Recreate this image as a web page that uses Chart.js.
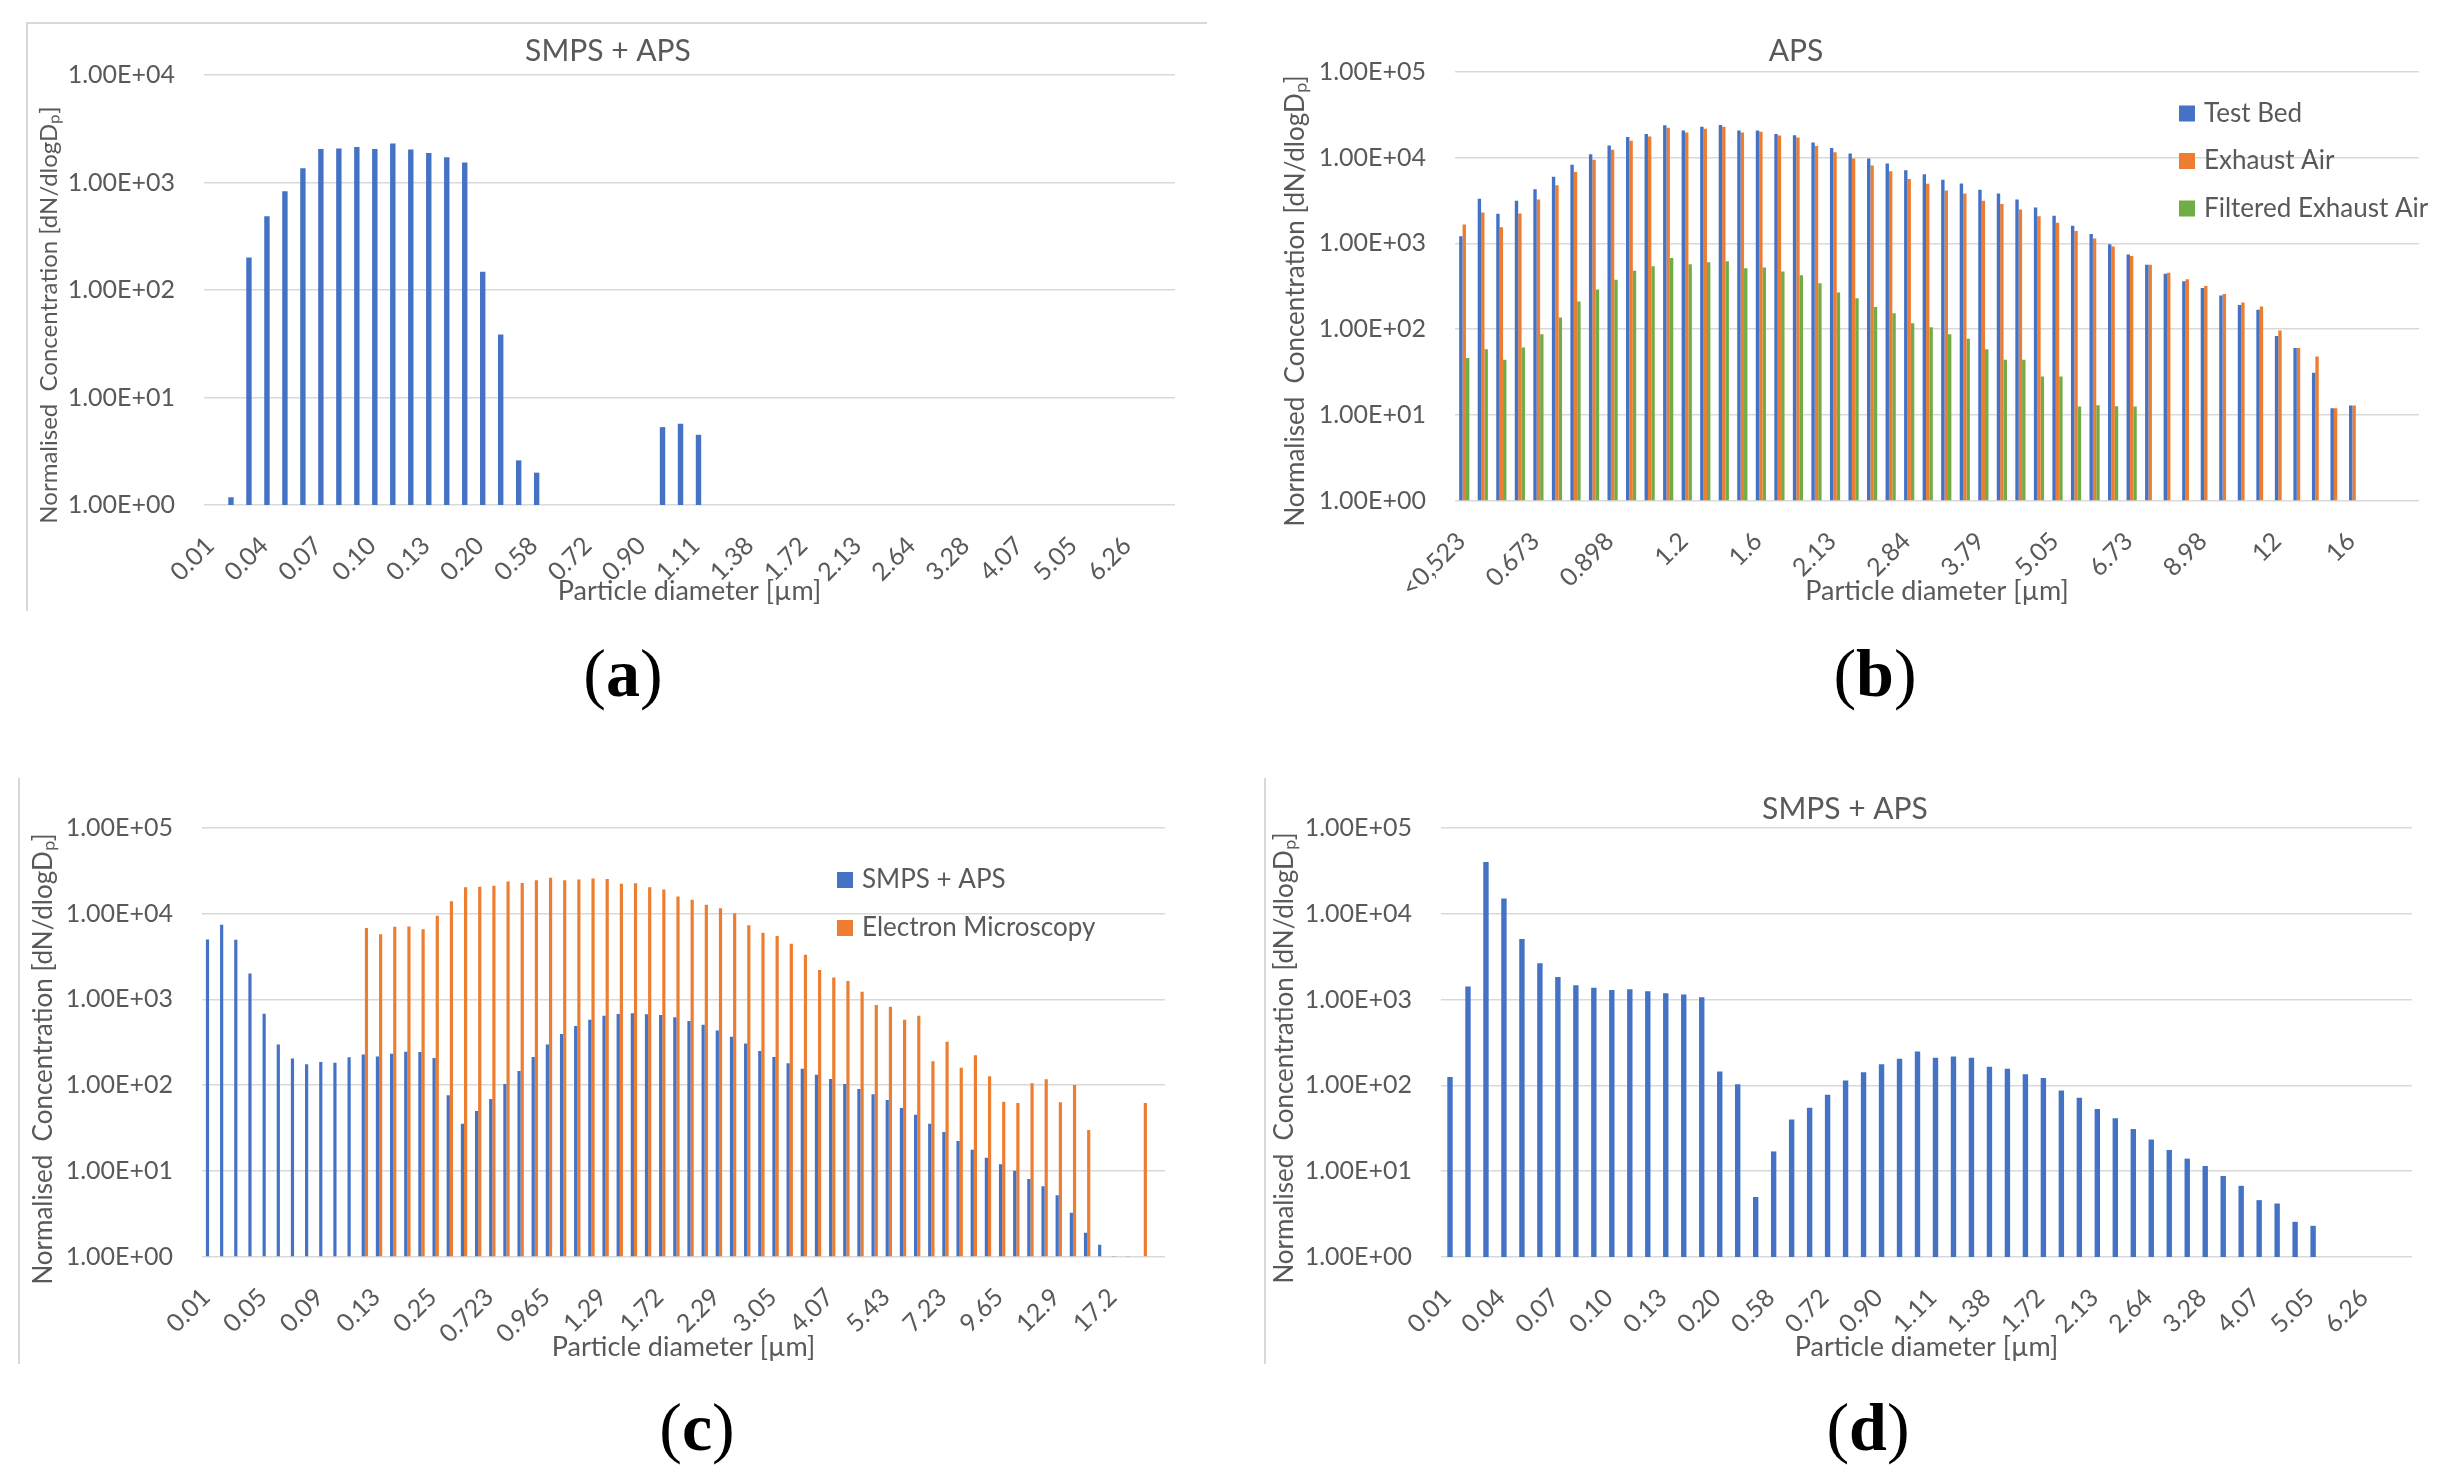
<!DOCTYPE html>
<html>
<head>
<meta charset="utf-8">
<script src="https://cdn.jsdelivr.net/npm/chart.js@4.4.0/dist/chart.umd.min.js"></script>
<style>
  html, body { margin: 0; padding: 0; background: #fff; }
  body { width: 2450px; height: 1478px; position: relative; overflow: hidden; }
  .panel { position: absolute; }
  .frame { position: absolute; border: 0 solid #d9d9d9; }
  .tag { position: absolute; font-family: 'Liberation Serif', 'DejaVu Serif', serif; font-size: 68px; color: #000; transform: translate(-50%, -50%); white-space: nowrap; }
</style>
</head>
<body>
<!-- light chart frames as in the original figure -->
<div class="frame" style="left:26px; top:22px; width:1179px; height:587px; border-top-width:2px; border-left-width:2px;"></div>
<div class="frame" style="left:18px; top:778px; width:1px; height:586px; border-left-width:2px;"></div>
<div class="frame" style="left:1264px; top:778px; width:1px; height:586px; border-left-width:2px;"></div>

<div class="panel" id="boxA"><canvas id="chartA"></canvas></div>
<div class="panel" id="boxB"><canvas id="chartB"></canvas></div>
<div class="panel" id="boxC"><canvas id="chartC"></canvas></div>
<div class="panel" id="boxD"><canvas id="chartD"></canvas></div>

<div class="tag" style="left:623px; top:673px;">(<b>a</b>)</div>
<div class="tag" style="left:1875px; top:673px;">(<b>b</b>)</div>
<div class="tag" style="left:697px; top:1427px;">(<b>c</b>)</div>
<div class="tag" style="left:1868px; top:1427px;">(<b>d</b>)</div>

<script>
// particle diameter bins [µm]
const smpsApsDiam = ['0.01', '0.02', '0.03', '0.04', '0.05', '0.06', '0.07', '0.08', '0.09', '0.10',
    '0.11', '0.12', '0.13', '0.15', '0.18', '0.20', '0.25', '0.54', '0.58', '0.63', '0.67', '0.72',
    '0.78', '0.84', '0.90', '0.97', '1.04', '1.11', '1.20', '1.29', '1.38', '1.49', '1.60', '1.72',
    '1.84', '1.98', '2.13', '2.29', '2.46', '2.64', '2.84', '3.05', '3.28', '3.52', '3.79', '4.07',
    '4.37', '4.70', '5.05', '5.43', '5.83', '6.26', '6.73', '7.23'];

const apsDiam = ['<0,523', '0.542', '0.583', '0.626', '0.673', '0.723', '0.777', '0.835', '0.898',
    '0.965', '1.04', '1.11', '1.2', '1.29', '1.38', '1.49', '1.6', '1.72', '1.84', '1.98', '2.13',
    '2.29', '2.46', '2.64', '2.84', '3.05', '3.28', '3.52', '3.79', '4.07', '4.37', '4.7', '5.05',
    '5.43', '5.83', '6.26', '6.73', '7.23', '7.77', '8.35', '8.98', '9.65', '10.4', '11.1', '12',
    '12.9', '13.8', '14.9', '16', '17.2', '18.4', '19.8'];

const compareDiam = ['0.01', '0.02', '0.03', '0.04', '0.05', '0.06', '0.07', '0.08', '0.09', '0.10',
    '0.11', '0.12', '0.13', '0.15', '0.18', '0.20', '0.25', '0.583', '0.626', '0.673', '0.723',
    '0.777', '0.835', '0.898', '0.965', '1.04', '1.11', '1.2', '1.29', '1.38', '1.49', '1.6', '1.72',
    '1.84', '1.98', '2.13', '2.29', '2.46', '2.64', '2.84', '3.05', '3.28', '3.52', '3.79', '4.07',
    '4.37', '4.7', '5.05', '5.43', '5.83', '6.26', '6.73', '7.23', '7.77', '8.35', '8.98', '9.65',
    '10.4', '11.1', '12', '12.9', '13.8', '14.9', '16', '17.2', '18.4', '19.8', '20'];

// (a) SMPS + APS
const smpsApsA = [0.97, 1.18, 201, 486, 829, 1355, 2050, 2070, 2140, 2050, 2310, 2030, 1885, 1717,
    1537, 148, 38.5, 2.6, 2.0, 0.97, 0.97, 0.97, 0.97, null, null, 5.3, 5.7, 4.5,
    null, null, null, null, null, null, null, null, null, null, null, null, null, null, null,
    null, null, null, null, null, null, null, null, null, null, null];

// (b) APS
const testBed = [1210, 3320, 2220, 3150, 4280, 6010, 8260, 11000, 13900, 17400, 18900, 23900, 20800,
    22900, 24100, 20800, 20800, 18900, 18300, 15000, 13000, 11200, 9790, 8530, 7130, 6400, 5520,
    5010, 4240, 3810, 3250, 2630, 2100, 1610, 1290, 980, 743, 564, 442, 361, 302, 246, 191, 168,
    83, 60, 31, 11.9, 12.8, null, null, null];
const exhaustAir = [1665, 2290, 1545, 2240, 3250, 4760, 6820, 9480, 12400, 15800, 17700, 22400,
    19700, 21700, 22900, 19700, 20100, 18100, 17200, 13700, 11600, 9790, 8090, 6970, 5640, 4960,
    4150, 3810, 3150, 2890, 2490, 2080, 1740, 1400, 1140, 918, 712, 564, 456, 381, 318, 257, 204,
    183, 96, 60, 48, 11.9, 12.8, null, null, null];
const filteredExhaust = [46, 58, 44, 61, 87, 137, 210, 289, 377, 481, 540, 675, 570, 601, 621, 512,
    524, 471, 424, 343, 268, 229, 181, 153, 117, 105, 87, 77, 58, 44, 44, 28, 28, 12.5, 12.9, 12.6,
    12.5, null, null, null, null, null, null, null, null, null, null, null, null, null, null, null];

// (c) SMPS + APS vs electron microscopy
const smpsApsC = [5000, 7410, 4950, 2010, 679, 297, 205, 175, 186, 182, 211, 228, 216, 232, 245, 243,
    207, 76, 35.5, 49.8, 69, 103, 146, 213, 297, 395, 489, 580, 644, 676, 687, 673, 658, 618, 561,
    505, 435, 367, 306, 250, 213, 180, 155, 132, 118, 103, 90, 78, 67, 54, 45, 35.5, 28.4, 22.2,
    17.6, 14.2, 11.9, 10.0, 8.0, 6.6, 5.2, 3.25, 1.89, 1.37, 0.97, 0.97, null, null];
const electronMicroscopy = [null, null, null, null, null, null, null, null, null, null, null,
    6810, 5740, 7030, 7100, 6590, 9460, 14000, 20300, 20600, 21200, 23800, 22800, 24600, 26200,
    24600, 25100, 25700, 25400, 22400, 22600, 20300, 19100, 15900, 14500, 12700, 11600, 10100,
    7330, 6000, 5510, 4450, 3310, 2210, 1800, 1640, 1230, 859, 822, 580, 644, 190, 320, 159, 223,
    127, 64, 62, 105, 117, 63, 100, 30, null, null, null, 62, null];

// (d) SMPS + APS
const smpsApsD = [125, 1420, 40200, 15100, 5070, 2650, 1830, 1465, 1375, 1290, 1318, 1250, 1185,
    1148, 1066, 145, 103, 5.0, 17, 40, 55, 78, 114, 142, 176, 204, 249, 210, 217, 210, 165, 156,
    135, 122, 87, 72, 53, 41.5, 31, 23.4, 17.7, 14.0, 11.5, 8.8, 6.75, 4.6, 4.2, 2.57, 2.31, null,
    0.97, 0.97, 0.97, null];

const BLUE = '#4472C4';
const ORANGE = '#ED7D31';
const GREEN = '#70AD47';
const GREY = '#595959';
const GRID = '#d9d9d9';
const Y_TITLE = 'Normalised  Concentration [dN/dlogD\u209A]';
const X_TITLE = 'Particle diameter [\u00B5m]';

Chart.defaults.font.family = 'Lato, "Open Sans", sans-serif';
Chart.defaults.color = GREY;

function isDecade(v) {
    const l = Math.log10(v);
    return Math.abs(l - Math.round(l)) < 1e-6;
}

function fmtExp(v) {
    const e = Math.round(Math.log10(v));
    return '1.00E' + (e < 0 ? '-' : '+') + String(Math.abs(e)).padStart(2, '0');
}

// chart title, y title and in-plot legend, placed where the original has them
const decor = {
    id: 'decor',
    afterDraw(chart, args, opts) {
        const ctx = chart.ctx;
        ctx.save();
        ctx.fillStyle = GREY;
        if (opts.title) {
            ctx.font = '30px Lato';
            ctx.textAlign = 'center';
            ctx.textBaseline = 'middle';
            ctx.fillText(opts.title.text, opts.title.x, opts.title.y);
        }
        if (opts.yTitle) {
            ctx.save();
            ctx.translate(opts.yTitle.x, opts.yTitle.y);
            ctx.rotate(-Math.PI / 2);
            ctx.font = opts.yTitle.size + 'px Lato';
            ctx.textAlign = 'center';
            ctx.textBaseline = 'middle';
            ctx.fillText(Y_TITLE, 0, 0);
            ctx.restore();
        }
        if (opts.legend) {
            const L = opts.legend;
            ctx.font = '26px Lato';
            ctx.textAlign = 'left';
            ctx.textBaseline = 'middle';
            chart.data.datasets.forEach((ds, i) => {
                const cy = L.y + i * L.gap;
                ctx.fillStyle = ds.backgroundColor;
                ctx.fillRect(L.x, cy - 8, 16, 16);
                ctx.fillStyle = GREY;
                ctx.fillText(ds.label, L.x + 25, cy);
            });
        }
        ctx.restore();
    }
};

// box / plot / titles given in page pixels
function makePanel(id, box, plot, p) {
    const wrap = document.getElementById('box' + id);
    wrap.style.left = box.x + 'px';
    wrap.style.top = box.y + 'px';
    wrap.style.width = box.w + 'px';
    wrap.style.height = box.h + 'px';

    const leftW = plot.l - box.x;
    const bottomH = box.y + box.h - plot.b;

    const decorOpts = {
        yTitle: { x: p.yTitle.x - box.x, y: p.yTitle.y - box.y, size: p.yTitle.size }
    };
    if (p.title) decorOpts.title = { text: p.title.text, x: p.title.x - box.x, y: p.title.y - box.y };
    if (p.legend) decorOpts.legend = { x: p.legend.x - box.x, y: p.legend.y - box.y, gap: p.legend.gap };

    return new Chart(document.getElementById('chart' + id), {
        type: 'bar',
        data: { labels: p.labels, datasets: p.datasets },
        options: {
            responsive: true,
            maintainAspectRatio: false,
            animation: false,
            layout: { padding: { left: 0, top: plot.t - box.y, right: box.x + box.w - plot.r, bottom: 0 } },
            datasets: { bar: { categoryPercentage: p.cat, barPercentage: 1, borderWidth: 0 } },
            plugins: {
                legend: { display: false },
                tooltip: { enabled: false },
                decor: decorOpts
            },
            scales: {
                x: {
                    grid: { display: false },
                    border: { display: false },
                    ticks: {
                        autoSkip: false,
                        minRotation: 45,
                        maxRotation: 45,
                        padding: 18,
                        labelOffset: -3,
                        font: { size: 25 },
                        callback: function (v, i) {
                            return i % p.step === 0 ? this.getLabelForValue(v) : '';
                        }
                    },
                    title: {
                        display: true,
                        text: X_TITLE,
                        font: { size: 27 },
                        padding: { top: 0, bottom: box.y + box.h - p.xTitleY - 16 }
                    },
                    afterFit: function (s) { s.height = bottomH; }
                },
                y: {
                    type: 'logarithmic',
                    min: 1,
                    max: p.yMax,
                    grid: {
                        drawTicks: false,
                        lineWidth: 1.5,
                        color: c => (c.tick && isDecade(c.tick.value)) ? GRID : 'rgba(0,0,0,0)'
                    },
                    border: { display: false },
                    ticks: {
                        autoSkip: false,
                        padding: 29,
                        font: { size: 25 },
                        callback: v => isDecade(v) ? fmtExp(v) : ''
                    },
                    title: { display: false },
                    afterFit: function (s) { s.width = leftW; }
                }
            }
        },
        plugins: [decor]
    });
}

makePanel('A', { x: 0, y: 0, w: 1225, h: 640 }, { l: 204, t: 75, r: 1175, b: 505 }, {
    labels: smpsApsDiam,
    datasets: [{ label: 'SMPS + APS', data: smpsApsA, backgroundColor: BLUE }],
    step: 3, cat: 0.3, yMax: 1e4,
    yTitle: { x: 49, y: 315, size: 24 }, xTitleY: 591,
    title: { text: 'SMPS + APS', x: 608, y: 51 }
});

makePanel('B', { x: 1225, y: 0, w: 1225, h: 640 }, { l: 1455, t: 72, r: 2419, b: 500.5 }, {
    labels: apsDiam,
    datasets: [
        { label: 'Test Bed', data: testBed, backgroundColor: BLUE },
        { label: 'Exhaust Air', data: exhaustAir, backgroundColor: ORANGE },
        { label: 'Filtered Exhaust Air', data: filteredExhaust, backgroundColor: GREEN }
    ],
    step: 4, cat: 0.55, yMax: 1e5,
    yTitle: { x: 1296, y: 301, size: 26 }, xTitleY: 591,
    title: { text: 'APS', x: 1796, y: 51 },
    legend: { x: 2179, y: 113.5, gap: 47.5 }
});

makePanel('C', { x: 0, y: 740, w: 1225, h: 640 }, { l: 202, t: 828, r: 1165, b: 1256.5 }, {
    labels: compareDiam,
    datasets: [
        { label: 'SMPS + APS', data: smpsApsC, backgroundColor: BLUE },
        { label: 'Electron Microscopy', data: electronMicroscopy, backgroundColor: ORANGE }
    ],
    step: 4, cat: 0.45, yMax: 1e5,
    yTitle: { x: 44, y: 1059, size: 26 }, xTitleY: 1347,
    legend: { x: 837, y: 880, gap: 48 }
});

makePanel('D', { x: 1225, y: 740, w: 1225, h: 640 }, { l: 1441, t: 828, r: 2412, b: 1257 }, {
    labels: smpsApsDiam,
    datasets: [{ label: 'SMPS + APS', data: smpsApsD, backgroundColor: BLUE }],
    step: 3, cat: 0.3, yMax: 1e5,
    yTitle: { x: 1285, y: 1058, size: 26 }, xTitleY: 1347,
    title: { text: 'SMPS + APS', x: 1845, y: 809 }
});
</script>
</body>
</html>
